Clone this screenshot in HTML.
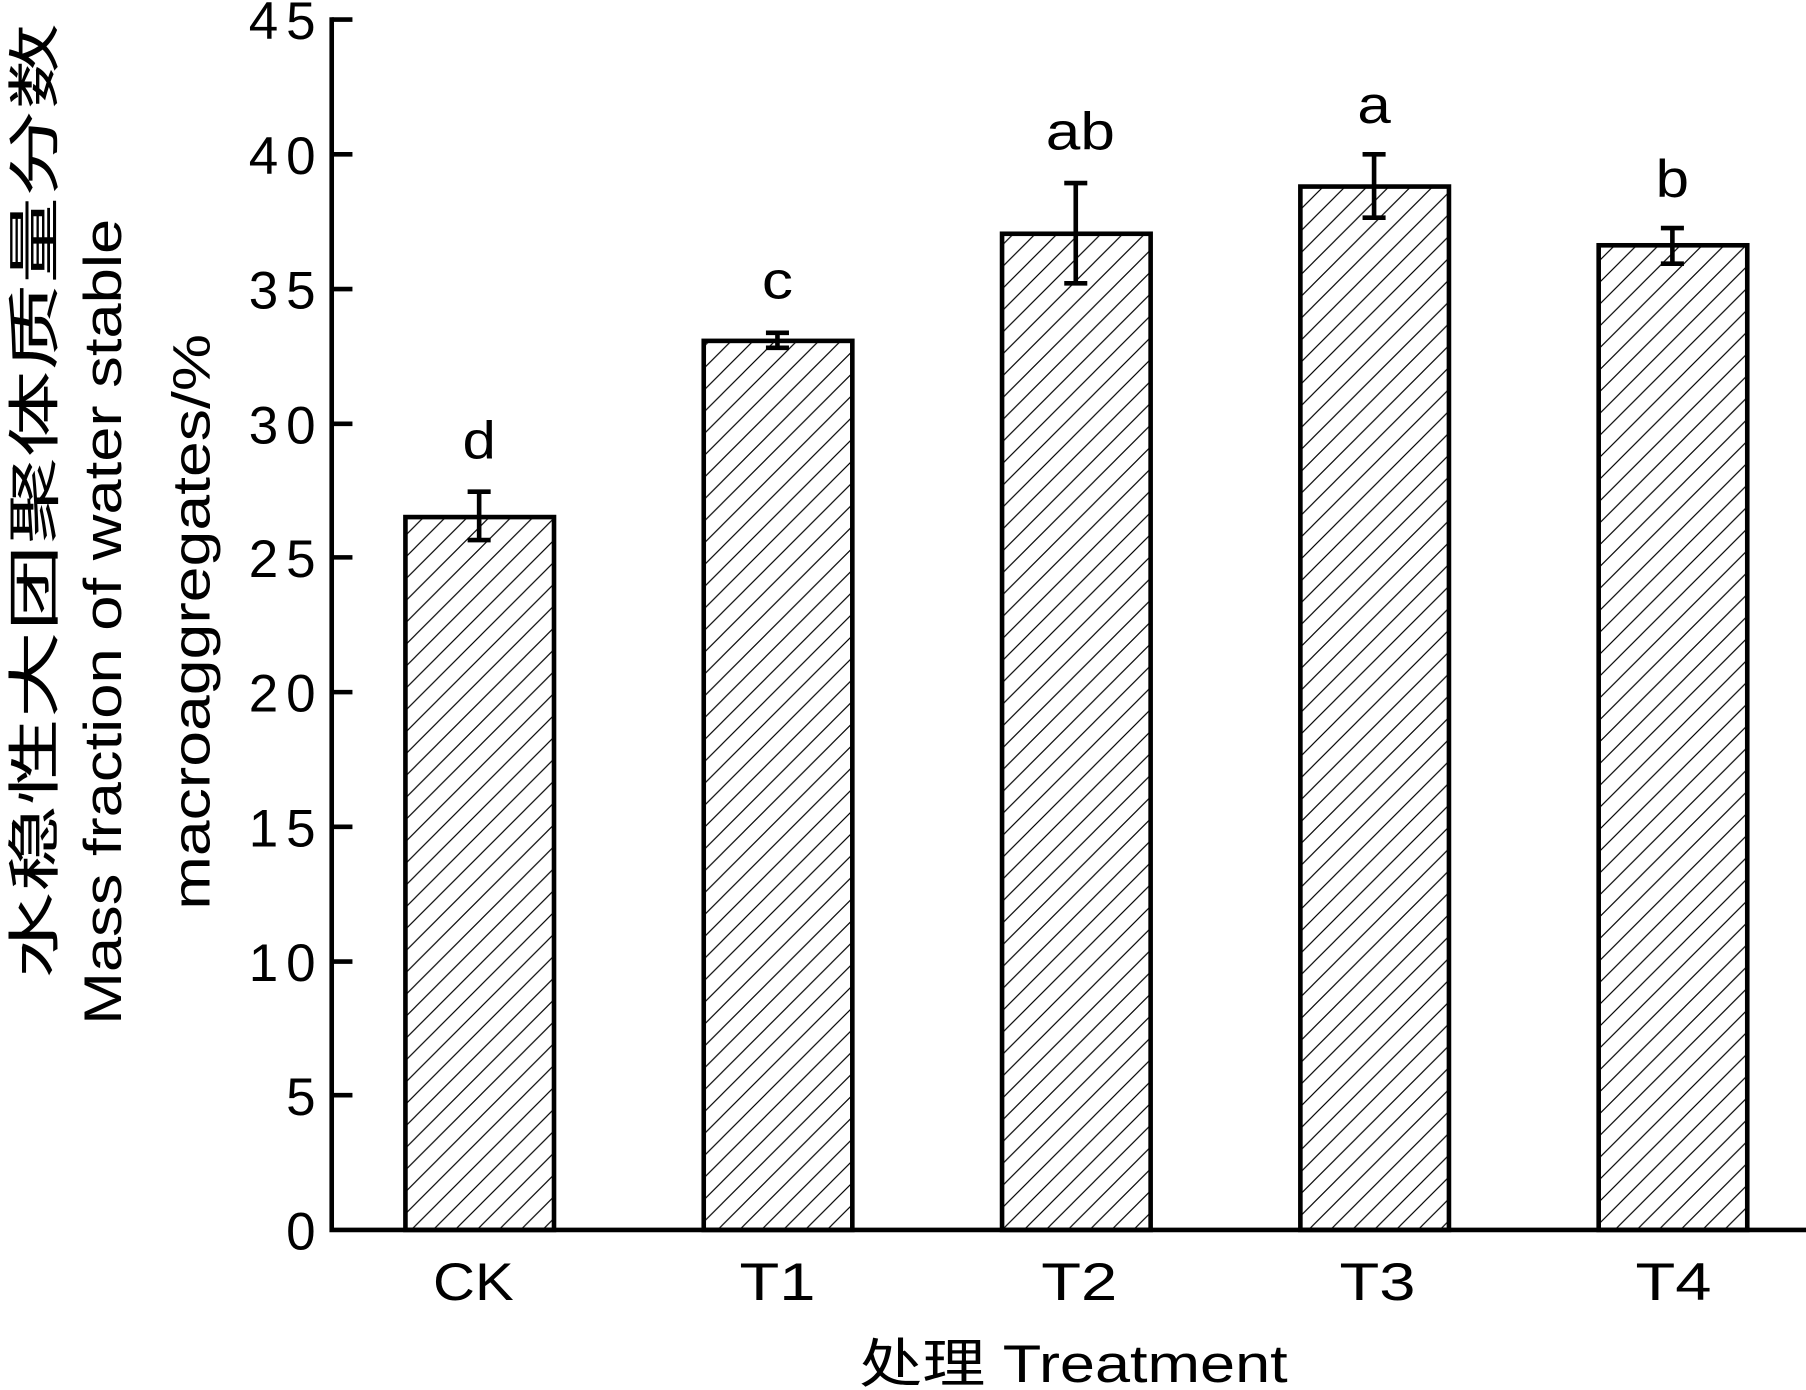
<!DOCTYPE html>
<html><head><meta charset="utf-8"><style>
html,body{margin:0;padding:0;background:#fff;}
svg{display:block;}
text{font-family:"Liberation Sans","Noto Sans CJK SC",sans-serif;fill:#000;}
</style></head><body>
<svg width="1806" height="1390" viewBox="0 0 1568 1207" preserveAspectRatio="none" xmlns="http://www.w3.org/2000/svg">
<defs>
<pattern id="h" patternUnits="userSpaceOnUse" width="19" height="19">
<path d="M-2,21 L21,-2 M-21,21 L2,-2 M17,21 L40,-2" stroke="#000" stroke-width="1"/>
</pattern>
</defs>
<g stroke="#000" stroke-width="4" fill="url(#h)">
<rect x="352" y="449" width="129" height="619"/>
<rect x="611" y="296" width="129" height="772"/>
<rect x="870" y="203" width="129" height="865"/>
<rect x="1129" y="162" width="129" height="906"/>
<rect x="1388" y="213" width="129" height="855"/>
</g>
<g stroke="#000" stroke-width="4" fill="none">
<path d="M416,427V469M406,427H426M406,469H426"/>
<path d="M675,289V302M665,289H685M665,302H685"/>
<path d="M934,159V246M924,159H944M924,246H944"/>
<path d="M1193,134V189M1183,134H1203M1183,189H1203"/>
<path d="M1452,198V229M1442,198H1462M1442,229H1462"/>
<path d="M288,15V1068H1568"/>
<path d="M288,17H306M288,134H306M288,251H306M288,368H306M288,484H306M288,601H306M288,718H306M288,835H306M288,951H306"/>
</g>
<g font-size="46" text-anchor="end" lengthAdjust="spacingAndGlyphs">
<text x="274" y="34" textLength="58">45</text><text x="274" y="151" textLength="58">40</text><text x="274" y="268" textLength="58">35</text>
<text x="274" y="385" textLength="58">30</text><text x="274" y="501" textLength="58">25</text><text x="274" y="618" textLength="58">20</text>
<text x="274" y="735" textLength="58">15</text><text x="274" y="852" textLength="58">10</text><text x="274" y="968" textLength="29">5</text>
<text x="274" y="1085" textLength="29">0</text>
</g>
<g font-size="46" text-anchor="middle">
<text x="416" y="398" textLength="29" lengthAdjust="spacingAndGlyphs">d</text>
<text x="675" y="259" textLength="27" lengthAdjust="spacingAndGlyphs">c</text>
<text x="938" y="130" textLength="60" lengthAdjust="spacingAndGlyphs">ab</text>
<text x="1193" y="107" textLength="29" lengthAdjust="spacingAndGlyphs">a</text>
<text x="1452" y="171" textLength="29" lengthAdjust="spacingAndGlyphs">b</text>
<text x="411" y="1129" textLength="70" lengthAdjust="spacingAndGlyphs">CK</text>
<text x="675" y="1129" textLength="66" lengthAdjust="spacingAndGlyphs">T1</text>
<text x="937" y="1129" textLength="66" lengthAdjust="spacingAndGlyphs">T2</text>
<text x="1196" y="1129" textLength="66" lengthAdjust="spacingAndGlyphs">T3</text>
<text x="1453" y="1129" textLength="66" lengthAdjust="spacingAndGlyphs">T4</text>
<text x="932" y="1200" textLength="372" lengthAdjust="spacingAndGlyphs">处理 Treatment</text>
</g>
<g font-size="46" text-anchor="middle">
<text transform="translate(46,435) rotate(-90)" textLength="830" lengthAdjust="spacingAndGlyphs">水稳性大团聚体质量分数</text>
<text transform="translate(105,540) rotate(-90)" textLength="700" lengthAdjust="spacingAndGlyphs">Mass fraction of water stable</text>
<text transform="translate(182,540) rotate(-90)" textLength="500" lengthAdjust="spacingAndGlyphs">macroaggregates/%</text>
</g>
</svg>
</body></html>
